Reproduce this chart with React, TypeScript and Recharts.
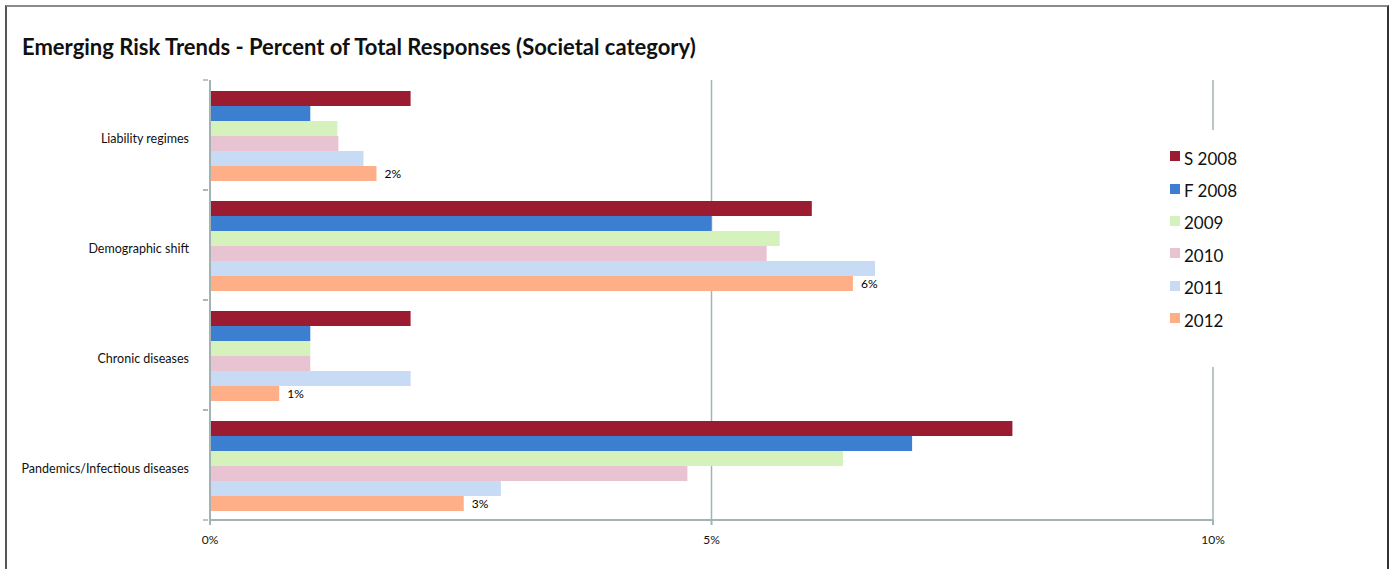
import { BarChart, Bar, XAxis, YAxis, CartesianGrid, Legend, LabelList } from 'recharts';

const categories = ['Liability regimes', 'Demographic shift', 'Chronic diseases', 'Pandemics/Infectious diseases'];
const seriesNames = ['S 2008', 'F 2008', '2009', '2010', '2011', '2012'];
const s2008 = [2.0, 6.0, 2.0, 8.0];
const f2008 = [1.0, 5.0, 1.0, 7.0];
const y2009 = [1.27, 5.68, 1.0, 6.31];
const y2010 = [1.28, 5.55, 1.0, 4.76];
const y2011 = [1.53, 6.63, 2.0, 2.9];
const y2012 = [1.66, 6.41, 0.69, 2.53];
const xTicks = [0, 5, 10];

const colors = ['#9B1B30', '#3C7FD0', '#D5F2BC', '#E8C3D2', '#C7DBF4', '#FFAF88'];
const axisColor = '#A3B3B3';
const font = 'Lato, "Open Sans", sans-serif';

const seriesValues = [s2008, f2008, y2009, y2010, y2011, y2012];
const data = categories.map((name, i) => {
  const row: Record<string, string | number> = { name };
  seriesNames.forEach((s, k) => {
    row[s] = seriesValues[k][i];
  });
  return row;
});

// category label plus the small marks on the band edges
function CategoryTick(props: any) {
  const { x, y, payload } = props;
  const half = payload.offset || 0;
  return (
    <g>
      <line x1={x + 1} x2={x + 6} y1={y - half} y2={y - half} stroke={axisColor} strokeWidth={1.5} />
      <line x1={x + 1} x2={x + 6} y1={y + half} y2={y + half} stroke={axisColor} strokeWidth={1.5} />
      <text x={x - 13} y={y} dy="0.6em" textAnchor="end" fontSize={12.5} fill="#111" fontFamily={font}>
        {payload.value}
      </text>
    </g>
  );
}

function LegendBox(props: any) {
  const items = [...(props.payload || [])].sort(
    (a: any, b: any) => seriesNames.indexOf(a.value) - seriesNames.indexOf(b.value)
  );
  return (
    <div style={{ background: '#fff', padding: '12px 0 31px 20px', fontFamily: font }}>
      {items.map((it: any) => (
        <div key={it.value} style={{ height: 32.4, display: 'flex', alignItems: 'center' }}>
          <span style={{ width: 10, height: 10, background: it.color, marginRight: 4, marginTop: -4 }} />
          <span style={{ fontSize: 17, color: '#111' }}>{it.value}</span>
        </div>
      ))}
    </div>
  );
}

export default function App() {
  return (
    <div
      style={{
        position: 'fixed',
        left: 0,
        top: 0,
        width: 1390,
        height: 569,
        overflow: 'hidden',
        background: '#fff',
      }}
    >
      {/* outer frame, open at the bottom */}
      <div
        style={{
          position: 'absolute',
          left: 5,
          top: 5,
          width: 1380,
          height: 580,
          borderTop: '2px solid #8a8a8a',
          borderLeft: '2px solid #555',
          borderRight: '2px solid #333',
        }}
      />
      <div
        style={{
          position: 'absolute',
          left: 22,
          top: 33,
          fontFamily: font,
          fontWeight: 700,
          fontSize: 22,
          color: '#111',
          whiteSpace: 'nowrap',
        }}
      >
        Emerging Risk Trends - Percent of Total Responses (Societal category)
      </div>
      <div style={{ position: 'absolute', left: 0, top: 0 }}>
        <BarChart
          width={1390}
          height={569}
          data={data}
          layout="vertical"
          margin={{ top: 80, right: 177, bottom: 19, left: 10 }}
          barCategoryGap={11}
          barGap={0}
        >
          <CartesianGrid horizontal={false} stroke={axisColor} strokeWidth={1.5} />
          <XAxis
            type="number"
            domain={[0, 10]}
            ticks={xTicks}
            tickFormatter={(v: number) => `${v}%`}
            height={30}
            stroke={axisColor}
            strokeWidth={2}
            tickSize={5}
            tick={{ fill: '#111', fontSize: 12, fontFamily: font, dy: 8 }}
            interval={0}
          />
          <YAxis
            type="category"
            dataKey="name"
            width={200}
            stroke={axisColor}
            strokeWidth={2}
            tickLine={false}
            tick={<CategoryTick />}
            interval={0}
          />
          <Legend
            layout="vertical"
            align="center"
            verticalAlign="middle"
            content={<LegendBox />}
            wrapperStyle={{ left: 1150, top: 130, width: 110 }}
          />
          {seriesNames.map((s, k) => (
            <Bar key={s} dataKey={s} name={s} fill={colors[k]} isAnimationActive={false}>
              {k === seriesNames.length - 1 && (
                <LabelList
                  dataKey={s}
                  position="right"
                  offset={8}
                  formatter={(v: any) => `${Math.round(Number(v))}%`}
                  fill="#000"
                  fontSize={12}
                  fontFamily={font}
                />
              )}
            </Bar>
          ))}
        </BarChart>
      </div>
    </div>
  );
}
